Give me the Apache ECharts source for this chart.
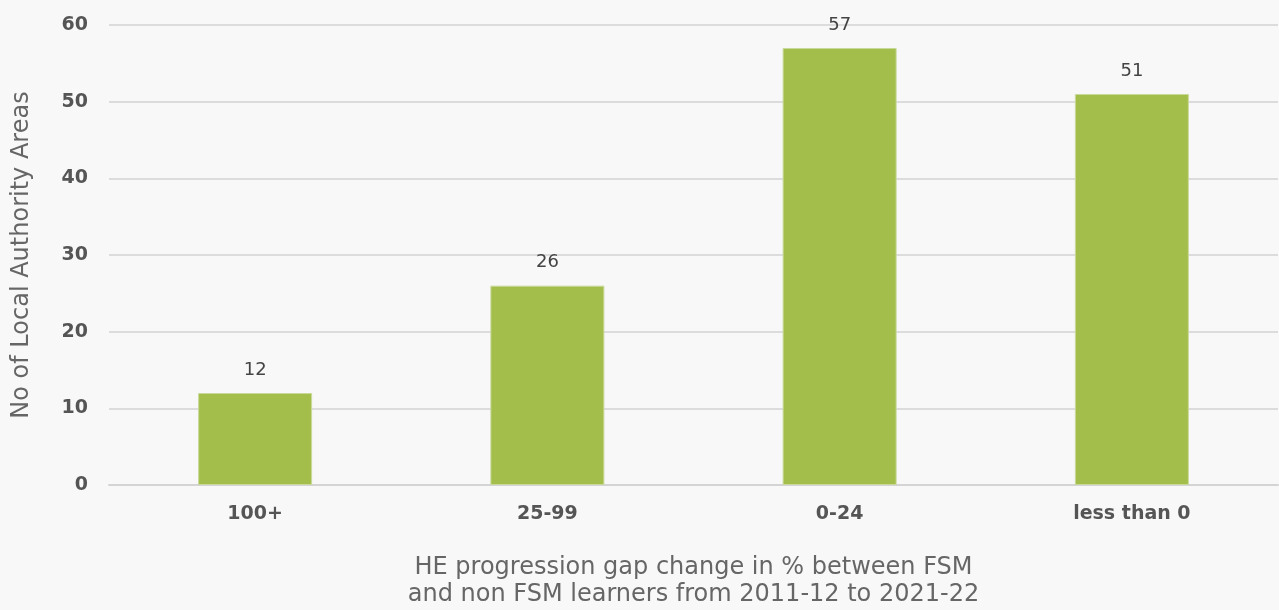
<!DOCTYPE html>
<html><head><meta charset="utf-8">
<script src="https://cdn.jsdelivr.net/npm/echarts@6/dist/echarts.min.js"></script>
<style>html,body{margin:0;padding:0;background:#f8f8f8;}#c{width:1279px;height:610px;}</style>
</head><body><div id="c"></div>
<script>
const categories = ['100+', '25-99', '0-24', 'less than 0'];
const values = [12, 26, 57, 51];
const yTicks = [0, 10, 20, 30, 40, 50, 60];
const FONT = 'DejaVu Sans';
const chart = echarts.init(document.getElementById('c'));
chart.setOption({
  backgroundColor: '#f8f8f8',
  animation: false,
  grid: { left: 109, right: 1, top: 25, bottom: 125, containLabel: false, outerBoundsMode: 'none' },
  xAxis: {
    type: 'category', data: categories,
    axisLine: { show: true, lineStyle: { color: '#d4d4d4', width: 2 } },
    axisTick: { show: false },
    axisLabel: { color: '#555', fontFamily: FONT, fontWeight: 'bold', fontSize: 19, margin: 20 },
    name: 'HE progression gap change in % between FSM\nand non FSM learners from 2011-12 to 2021-22',
    nameLocation: 'middle', nameGap: 69,
    nameTextStyle: { color: '#666', fontFamily: FONT, fontSize: 24, lineHeight: 27 }
  },
  yAxis: {
    type: 'value', min: 0, max: 60, interval: 10,
    axisLine: { show: false }, axisTick: { show: false },
    splitLine: { lineStyle: { color: '#dcdcdc', width: 2 } },
    axisLabel: { color: '#555', fontFamily: FONT, fontWeight: 'bold', fontSize: 19, margin: 21 },
    name: 'No of Local Authority Areas', nameLocation: 'middle', nameGap: 75,
    nameTextStyle: { color: '#666', fontFamily: FONT, fontSize: 24 }
  },
  series: [{
    type: 'bar', data: values, barWidth: '39%',
    itemStyle: { color: '#a3be4a', borderColor: '#c9d99a', borderWidth: 1 },
    label: { show: true, position: 'top', distance: 14, color: '#444', fontFamily: FONT, fontSize: 18 }
  }]
});
</script></body></html>
